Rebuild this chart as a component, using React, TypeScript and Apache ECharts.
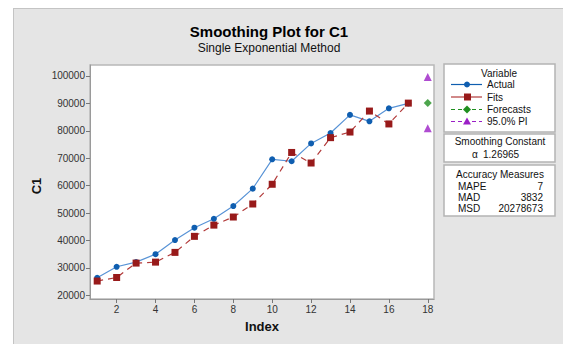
import React, { useEffect, useRef } from 'react';
import * as echarts from 'echarts';

const indexValues = [1, 2, 3, 4, 5, 6, 7, 8, 9, 10, 11, 12, 13, 14, 15, 16, 17];
const actualValues = [26400, 30400, 32100, 35000, 40150, 44650, 47900, 52550, 58900, 69600, 68900, 75400, 79200, 85800, 83450, 88200, 90000];
const fitsValues = [25200, 26500, 31750, 32100, 35650, 41500, 45600, 48550, 53300, 60500, 72100, 68250, 77500, 79550, 87200, 82500, 90100];
const forecastIndex = [18];
const forecastValues = [90100];
const piIndex = [18, 18];
const piValues = [99600, 80900];
const xTicks = [2, 4, 6, 8, 10, 12, 14, 16, 18];
const yTicks = [20000, 30000, 40000, 50000, 60000, 70000, 80000, 90000, 100000];
const legendNames = ['Actual', 'Fits', 'Forecasts', '95.0% PI'];
const alphaValue = '1.26965';
const accuracyLabels = ['MAPE', 'MAD', 'MSD'];
const accuracyValues = ['7', '3832', '20278673'];

const FONT = 'Arial';
const BLUE = '#0f5eb0';
const BLUE_LINE = '#5893d6';
const RED = '#981a1a';
const RED_LINE = '#b23a3a';
const GREEN = '#1f8f1f';
const PURPLE = '#9b1fc6';

function txt(x: number, y: number, text: string, size: number, opts: any = {}) {
  return {
    type: 'text', x, y, z: 21, rotation: opts.rotation || 0,
    style: {
      text, fontFamily: FONT, fontSize: size, fontWeight: opts.bold ? 'bold' : 'normal',
      fill: opts.fill || '#111', textAlign: opts.align || 'left', textVerticalAlign: 'middle',
    },
  };
}

export default function App() {
  const ref = useRef<HTMLDivElement>(null);
  useEffect(() => {
    if (!ref.current) return;
    const chart = echarts.init(ref.current, undefined, { renderer: 'svg' });

    const legendColors = [BLUE, RED, GREEN, PURPLE];
    const legendLineColors = [BLUE, RED_LINE, GREEN, PURPLE];
    const legendDash: (number[] | null)[] = [null, null, [4, 3], [4, 3]];
    const rowY = [84.5, 97, 109.5, 121.5];
    const legendEls: any[] = [];
    legendNames.forEach((name, i) => {
      const y = rowY[i];
      legendEls.push({
        type: 'line',
        shape: { x1: 451, y1: y, x2: 482, y2: y },
        style: { stroke: legendLineColors[i], lineWidth: 1.2, lineDash: legendDash[i] || undefined },
        z: 20,
      });
      const c = legendColors[i];
      if (i === 0) legendEls.push({ type: 'circle', shape: { cx: 467, cy: y, r: 3 }, style: { fill: c }, z: 21 });
      if (i === 1) legendEls.push({ type: 'rect', shape: { x: 464, y: y - 3.5, width: 7, height: 7 }, style: { fill: c }, z: 21 });
      if (i === 2) legendEls.push({ type: 'polygon', shape: { points: [[467, y - 4], [471, y], [467, y + 4], [463, y]] }, style: { fill: c }, z: 21 });
      if (i === 3) legendEls.push({ type: 'polygon', shape: { points: [[467, y - 4], [471, y + 3], [463, y + 3]] }, style: { fill: c }, z: 21 });
      legendEls.push(txt(487, y, name, 10));
    });

    const accEls: any[] = [];
    accuracyLabels.forEach((lab, i) => {
      const y = [186, 197, 208][i];
      accEls.push(txt(458, y, lab, 10));
      accEls.push(txt(543, y, accuracyValues[i], 10, { align: 'right' }));
    });

    const option: any = {
      animation: false,
      textStyle: { fontFamily: FONT },
      grid: {
        left: 90, top: 65, width: 344, height: 234,
        show: true, backgroundColor: '#ffffff', borderColor: '#b8b8b8', borderWidth: 1.5,
      },
      xAxis: {
        type: 'value', min: 0.63, max: 18.32,
        axisLine: { show: true, onZero: false, lineStyle: { color: '#9a9a9a', width: 1 } },
        axisTick: { show: true, customValues: xTicks, length: 4, lineStyle: { color: '#777' } },
        axisLabel: { customValues: xTicks, color: '#333', fontSize: 10, fontFamily: FONT, margin: 5, formatter: (v: number) => String(v) },
        splitLine: { show: false },
      },
      yAxis: {
        type: 'value', min: 18650, max: 104000,
        axisLine: { show: true, onZero: false, lineStyle: { color: '#9a9a9a', width: 1 } },
        axisTick: { show: true, customValues: yTicks, length: 4, lineStyle: { color: '#777' } },
        axisLabel: { customValues: yTicks, color: '#333', fontSize: 10, fontFamily: FONT, margin: 5, formatter: (v: number) => String(v) },
        splitLine: { show: false },
      },
      series: [
        {
          type: 'line', name: 'Actual',
          data: indexValues.map((x, i) => [x, actualValues[i]]),
          symbol: 'circle', symbolSize: 6,
          itemStyle: { color: BLUE },
          lineStyle: { color: BLUE_LINE, width: 1.2 },
          z: 3,
        },
        {
          type: 'line', name: 'Fits',
          data: indexValues.map((x, i) => [x, fitsValues[i]]),
          symbol: 'rect', symbolSize: 7,
          itemStyle: { color: RED },
          lineStyle: { color: RED_LINE, width: 1.2, type: [6, 5] },
          z: 4,
        },
        {
          type: 'scatter', name: 'Forecasts',
          data: forecastIndex.map((x, i) => [x, forecastValues[i]]),
          symbol: 'diamond', symbolSize: 8,
          itemStyle: { color: GREEN },
          z: 4,
        },
        {
          type: 'scatter', name: '95.0% PI',
          data: piIndex.map((x, i) => [x, piValues[i]]),
          symbol: 'triangle', symbolSize: 8,
          itemStyle: { color: PURPLE },
          z: 4,
        },
      ],
      graphic: [
        txt(269, 31, 'Smoothing Plot for C1', 15, { bold: true, align: 'center', fill: '#000' }),
        txt(269, 48, 'Single Exponential Method', 12, { align: 'center' }),
        txt(262, 326, 'Index', 13, { bold: true, align: 'center' }),
        txt(36, 186, 'C1', 13, { bold: true, align: 'center', rotation: Math.PI / 2 }),
        { type: 'rect', shape: { x: 444, y: 64, width: 111, height: 68 }, style: { fill: '#fff', stroke: '#b4b4b4', lineWidth: 1.5 }, z: 19 },
        txt(499, 73, 'Variable', 10, { align: 'center' }),
        ...legendEls,
        { type: 'rect', shape: { x: 444, y: 134, width: 111, height: 28 }, style: { fill: '#fff', stroke: '#b4b4b4', lineWidth: 1.5 }, z: 19 },
        txt(500, 141.5, 'Smoothing Constant', 10, { align: 'center' }),
        txt(475, 154.5, 'α', 10, { align: 'center' }),
        txt(483, 154.5, alphaValue, 10),
        { type: 'rect', shape: { x: 444, y: 165, width: 111, height: 51 }, style: { fill: '#fff', stroke: '#b4b4b4', lineWidth: 1.5 }, z: 19 },
        txt(500, 174, 'Accuracy Measures', 10, { align: 'center' }),
        ...accEls,
      ],
    };
    chart.setOption(option);
    return () => chart.dispose();
  }, []);

  return (
    <div style={{ position: 'fixed', left: 0, top: 0, width: 563, height: 344, background: '#ffffff' }}>
      <div style={{ position: 'absolute', left: 13, top: 8, width: 550, height: 336, background: '#e5e5e5', borderLeft: '1px solid #c4c4c4', borderTop: '1px solid #c4c4c4', boxSizing: 'border-box' }} />
      <div ref={ref} style={{ position: 'absolute', left: 0, top: 0, width: 563, height: 344 }} />
    </div>
  );
}
